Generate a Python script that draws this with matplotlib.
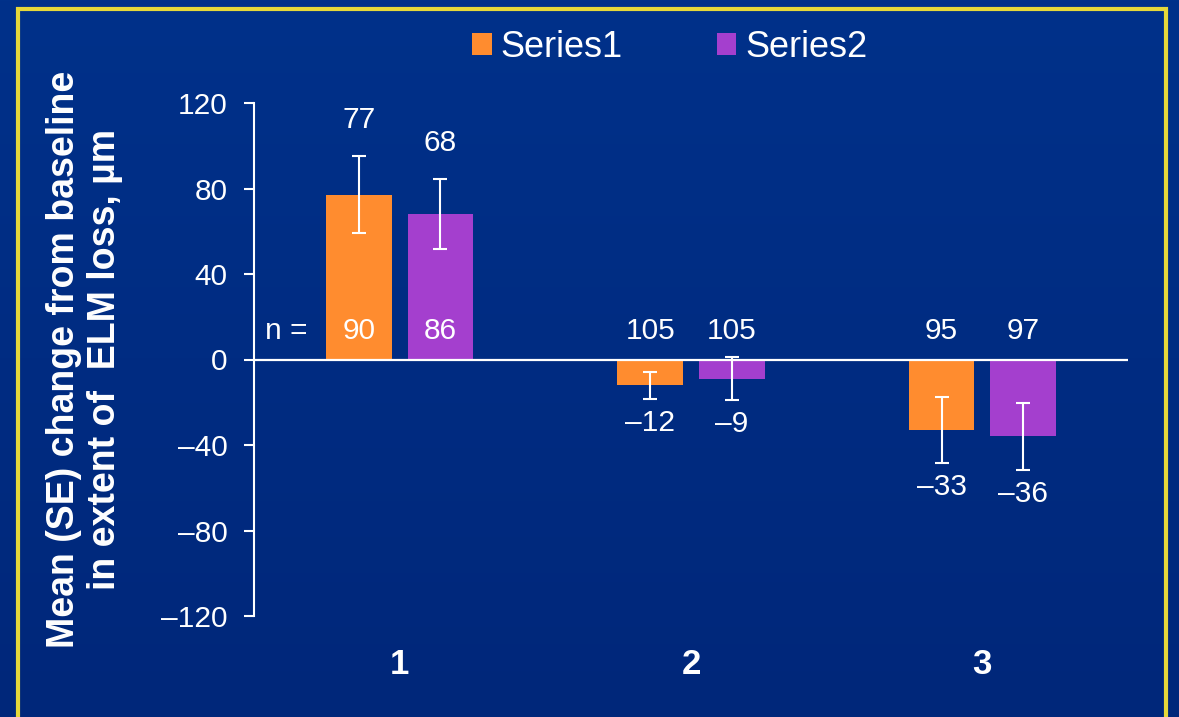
import numpy as np
import matplotlib
matplotlib.use("Agg")
import matplotlib.pyplot as plt
from matplotlib.patches import Rectangle
from matplotlib.ticker import FuncFormatter

plt.rcParams['font.family'] = ['Liberation Sans', 'DejaVu Sans']

# data
categories = ["1", "2", "3"]
series_names = ["Series1", "Series2"]
series1 = [77, -12, -33]
series2 = [68, -9, -36]
se1 = [18, 6.3, 15.3]
se2 = [16.5, 10, 15.7]
n1 = [90, 105, 95]
n2 = [86, 105, 97]
yticks = [-120, -80, -40, 0, 40, 80, 120]

orange = "#FF8C2F"
purple = "#A43FCE"
yellow = "#E6D83A"

def dash(v):
    # en dash for negatives, like the slide
    v = int(round(v))
    return ("\u2013%d" % -v) if v < 0 else "%d" % v

fig = plt.figure(figsize=(11.79, 7.17), dpi=100)

# background gradient
bg = fig.add_axes([0, 0, 1, 1], zorder=-10)
grad = np.linspace(0, 1, 256).reshape(-1, 1)
cmap = matplotlib.colors.LinearSegmentedColormap.from_list("bg", ["#00318A", "#00277A"])
bg.imshow(grad, aspect="auto", cmap=cmap, extent=[0, 1, 0, 1])
bg.set_axis_off()

# yellow frame
fig.patches.append(Rectangle((17.5 / 1179, -0.05), (1166 - 17.5) / 1179, 1.05 - 8.5 / 717,
                             transform=fig.transFigure, fill=False, edgecolor=yellow, lw=3))

ax = fig.add_axes([254 / 1179, 101 / 717, 874 / 1179, 513 / 717])
ax.set_facecolor("none")

x = np.arange(len(categories))
w = 0.226
off = 0.14

b1 = ax.bar(x - off, series1, w, color=orange, label=series_names[0], zorder=2)
b2 = ax.bar(x + off, series2, w, color=purple, label=series_names[1], zorder=2)
ax.errorbar(x - off, series1, yerr=se1, fmt="none", ecolor="white", elinewidth=1.5,
            capsize=5, capthick=1.5, zorder=3)
ax.errorbar(x + off, series2, yerr=se2, fmt="none", ecolor="white", elinewidth=1.5,
            capsize=5, capthick=1.5, zorder=3)

ax.axhline(0, color="white", lw=1.6, zorder=4)

# mean labels
for xs, vals, ses in [(x - off, series1, se1), (x + off, series2, se2)]:
    for xi, v, s in zip(xs, vals, ses):
        if v >= 0:
            ax.annotate(dash(v), (xi, v + s), xytext=(0, 26), textcoords="offset points",
                        ha="center", va="center", color="white", fontsize=21.5)
        else:
            ax.annotate(dash(v), (xi, v - s), xytext=(0, -17.5), textcoords="offset points",
                        ha="center", va="center", color="white", fontsize=21.5)

# n labels
for xs, ns in [(x - off, n1), (x + off, n2)]:
    for xi, n in zip(xs, ns):
        ax.text(xi, 13.5, str(n), ha="center", va="center", color="white", fontsize=21.5, zorder=5)
ax.text(x[0] - off - 0.25, 13.5, "n =", ha="center", va="center", color="white", fontsize=21.5)

ax.set_xlim(-0.5, 2.5)
ax.set_ylim(-120, 120)
ax.set_yticks(yticks)
ax.yaxis.set_major_formatter(FuncFormatter(lambda v, p: dash(v)))
ax.set_xticks(x)
ax.set_xticklabels(categories, fontweight="bold", fontsize=25, color="white")
ax.tick_params(axis="x", length=0, pad=23)
ax.tick_params(axis="y", colors="white", labelsize=21.5, length=7, width=1.5, pad=12)

for sp in ["top", "right", "bottom"]:
    ax.spines[sp].set_visible(False)
ax.spines["left"].set_color("white")
ax.spines["left"].set_linewidth(1.5)

ax.set_ylabel("Mean (SE) change from baseline\nin extent of  ELM loss, \u00b5m",
              fontsize=27, fontweight="bold", color="white", linespacing=1.2)
ax.yaxis.label.set_va("center")
ax.yaxis.set_label_coords(-0.194, 0.5)

fig.legend(handles=[b1, b2], loc="center", bbox_to_anchor=(0.568, 0.934), ncol=2,
           frameon=False, fontsize=26, labelcolor="white", handlelength=0.55,
           handleheight=0.55, handletextpad=0.25, columnspacing=2.6)

fig.savefig("out.png", dpi=100)
